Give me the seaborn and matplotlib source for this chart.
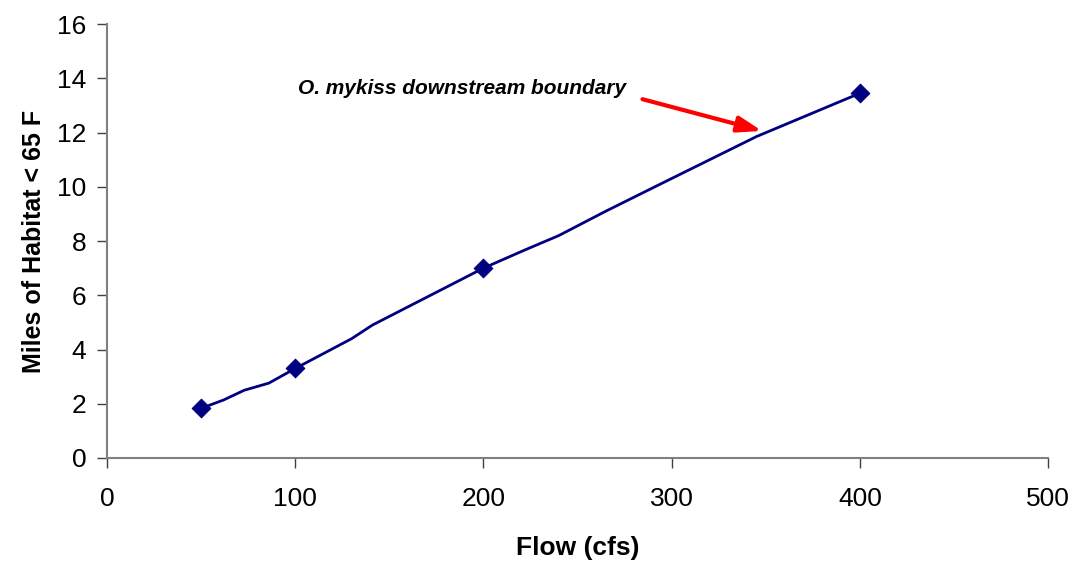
import numpy as np
import pandas as pd
import seaborn as sns
import matplotlib.pyplot as plt

# modelled curve (line) and the four measured flows (markers)
line_flow = [50, 62, 73, 86, 100, 130, 141, 200, 222, 240, 265, 294, 345, 400]
line_miles = [1.83, 2.14, 2.5, 2.76, 3.3, 4.4, 4.9, 7.0, 7.67, 8.2, 9.1, 10.1, 11.85, 13.45]
point_flow = [50, 100, 200, 400]
point_miles = [1.83, 3.3, 7.0, 13.45]

label_text = "O. mykiss downstream boundary"

sns.set_style("white")
plt.rcParams['font.family'] = ['Liberation Sans', 'DejaVu Sans']
plt.rcParams['text.color'] = 'black'
plt.rcParams['axes.labelcolor'] = 'black'
plt.rcParams['xtick.color'] = 'black'
plt.rcParams['ytick.color'] = 'black'

fig = plt.figure(figsize=(10.75, 5.65), dpi=100)
ax = fig.add_axes([0.0995, 0.1894, 0.8755, 0.768])

navy = '#000080'
sns.lineplot(x=line_flow, y=line_miles, color=navy, linewidth=2, ax=ax)
sns.scatterplot(x=point_flow, y=point_miles, color=navy, marker='D', s=90,
                edgecolor=navy, zorder=3, ax=ax)

ax.set_xlim(0, 500)
ax.set_ylim(0, 16)
ax.set_xticks(range(0, 501, 100))
ax.set_yticks(range(0, 17, 2))

for side in ['top', 'right']:
    ax.spines[side].set_visible(False)
for side in ['left', 'bottom']:
    ax.spines[side].set_color('#808080')
    ax.spines[side].set_linewidth(1.5)
ax.tick_params(axis='both', direction='out', length=7, width=1, color='#404040',
               labelsize=19, bottom=True, left=True)
ax.tick_params(axis='x', pad=14)
ax.tick_params(axis='y', pad=8)

ax.set_xlabel('Flow (cfs)', fontsize=19, fontweight='bold', labelpad=18)
ax.set_ylabel('Miles of Habitat < 65 F', fontsize=18, fontweight='bold', labelpad=8)

ax.text(188.5, 13.64, label_text, fontsize=15, fontweight='bold', style='italic',
        ha='center', va='center')
ax.annotate('', xy=(348, 12.06), xytext=(284.5, 13.23),
            arrowprops=dict(arrowstyle='-|>,head_length=0.9,head_width=0.3',
                            color='red', lw=3, mutation_scale=16,
                            shrinkA=0, shrinkB=0))

fig.savefig('out.png', dpi=100)
